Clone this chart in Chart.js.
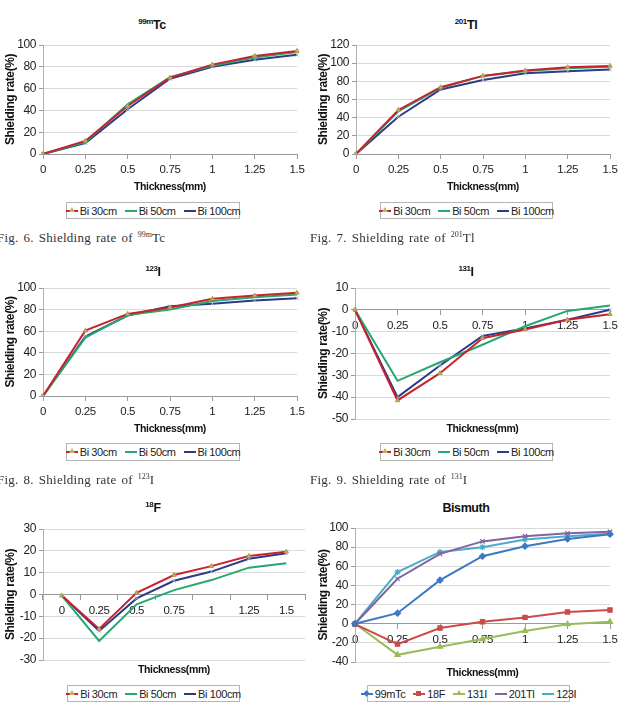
<!DOCTYPE html>
<html>
<head>
<meta charset="utf-8">
<title>Shielding rate</title>
<script src="https://cdn.jsdelivr.net/npm/chart.js@4.4.1/dist/chart.umd.min.js"></script>
<style>
  body { margin: 0; background: #fff; }
  #page { position: relative; width: 626px; height: 712px; overflow: hidden; }
  canvas { position: absolute; }
  .ttl { position: absolute; transform: translate(-50%, -50%); font: bold 12.5px 'Liberation Sans', sans-serif; letter-spacing: -0.4px; color: #111; white-space: nowrap; }
  .ttl sup { font-size: 8px; vertical-align: 5px; line-height: 0; }
  .cap { position: absolute; transform: translateY(-50%); font: 13px 'Liberation Serif', serif; color: #333; letter-spacing: 0.25px; word-spacing: 1.5px; white-space: nowrap; }
  .cap sup { font-size: 8px; vertical-align: 5px; line-height: 0; letter-spacing: 0; }
  .lg { position: absolute; box-sizing: border-box; border: 1px solid #b5b5b5; display: flex; align-items: center; justify-content: center; font: 11px 'Liberation Sans', sans-serif; letter-spacing: -0.4px; color: #222; }
  .it { display: flex; align-items: center; margin: 0 4px; white-space: nowrap; }
  .ln { position: relative; width: 12px; height: 2px; margin-right: 2px; }
  .mk { position: absolute; left: 3px; top: -2px; width: 5px; height: 5px; }
</style>
</head>
<body>
<div id="page"></div>
<script>
// x categories (mm)
const thickness = ['0', '0.25', '0.5', '0.75', '1', '1.25', '1.5'];
const distLabels = ['Bi 30cm', 'Bi 50cm', 'Bi 100cm'];

// 99mTc
const tc30 = [0, 12, 44, 70, 82, 90, 94.5];
const tc50 = [0, 11, 45.5, 70.5, 81, 88.5, 93.5];
const tc100 = [0, 10, 41, 69, 80, 86.5, 91];

// 201Tl
const tl30 = [0, 48.5, 73.5, 86, 92, 95.5, 97];
const tl50 = [0, 47, 73, 86, 91.5, 94.5, 96];
const tl100 = [0, 41, 71, 81.5, 89, 91, 93];

// 123I
const i123_30 = [0, 60.5, 76, 82, 90, 93, 95.5];
const i123_50 = [0, 54, 75, 80, 88, 91.5, 94];
const i123_100 = [0, 55, 74.5, 83, 85.5, 88.5, 90.5];

// 131I
const i131_30 = [0, -41.5, -29, -13, -9, -4.5, -2];
const i131_50 = [0, -32.5, -24, -16, -7.5, -0.5, 2];
const i131_100 = [0, -40, -25.5, -12, -8.5, -4.5, 0];

// 18F
const f30 = [-0.5, -15.8, 0.8, 8.9, 13, 17.6, 19.6];
const f50 = [-0.5, -21.3, -4.5, 2, 6.6, 12.3, 14.3];
const f100 = [-0.5, -16.7, -1.8, 6.3, 10.5, 16.4, 18.9];

// Bismuth summary (Bi 50cm)
const isoLabels = ['99mTc', '18F', '131I', '201Tl', '123I'];
const isoData = [tc50, f50, i131_50, tl50, i123_50];

const SANS = "'Liberation Sans', sans-serif";
const RED = '#c8232c', GREEN = '#25a86d', NAVY = '#2c3b85';
const isoColors = ['#3d78c2', '#cc4a4a', '#9bbb59', '#8064a2', '#4bacc6'];
const isoMarks = ['rectRot', 'rect', 'triangle', 'crossRot', 'star'];

const page = document.getElementById('page');

// slightly condensed canvas text, the original figure is squeezed sideways
const squeeze = {
  id: 'squeeze',
  beforeUpdate(chart) { chart.ctx.letterSpacing = '-0.4px'; },
  beforeDraw(chart) { chart.ctx.letterSpacing = '-0.4px'; }
};

function distSets(a, b, c) {
  return [
    { label: distLabels[0], data: a, borderColor: RED, pointStyle: 'triangle', pointRadius: 2.5,
      pointBackgroundColor: '#c9b263', pointBorderColor: '#a89550', pointBorderWidth: 1 },
    { label: distLabels[1], data: b, borderColor: GREEN, pointRadius: 0 },
    { label: distLabels[2], data: c, borderColor: NAVY, pointStyle: 'crossRot', pointRadius: 2.5,
      pointBorderColor: '#a0a8c4', pointBorderWidth: 1 }
  ];
}

function bismuthSets() {
  return isoLabels.map((name, i) => ({
    label: name, data: isoData[i], borderColor: isoColors[i],
    pointStyle: isoMarks[i], pointRadius: 3, pointBackgroundColor: isoColors[i],
    pointBorderColor: isoColors[i], pointBorderWidth: 1.2
  }));
}

function drawPanel(p) {
  const [L, R, T, B] = p.area;
  const top = T - 12;
  const h = Math.round(p.titleY + 7 - top);
  const cv = document.createElement('canvas');
  cv.width = 313; cv.height = h;
  cv.style.left = p.x + 'px'; cv.style.top = top + 'px';
  page.appendChild(cv);
  const yw = L - p.x;
  const xh = h - (B - top);

  const tickFont = { size: 11.5, family: SANS };
  const xTitle = { display: true, text: 'Thickness(mm)', color: '#111', padding: 0,
                   font: { size: 10.5, weight: 'bold', family: SANS } };
  const scales = {
    x: {
      type: 'category', labels: thickness, offset: !!p.offset,
      position: p.zero ? { y: 0 } : 'bottom',
      grid: { drawOnChartArea: false, tickLength: 5, tickColor: '#9a9a9a', offset: !!p.offset },
      border: { color: '#9a9a9a' },
      ticks: { font: tickFont, color: '#222', padding: 4, autoSkip: false, maxRotation: 0 },
      title: p.zero ? { display: false } : xTitle,
      afterFit: s => { if (!p.zero) s.height = xh; }
    },
    y: {
      min: p.y[0], max: p.y[1],
      ticks: { stepSize: p.y[2], font: { size: 12, family: SANS }, color: '#222', padding: 3 },
      grid: { color: '#d9d9d9', tickLength: 4, tickColor: '#9a9a9a' },
      border: { color: '#b0b0b0' },
      title: { display: true, text: 'Shielding rate(%)', color: '#111', padding: { top: 3.5, bottom: 0 },
               font: { size: 12, weight: 'bold', family: SANS } },
      afterFit: s => { s.width = yw; }
    }
  };
  if (p.zero) {
    scales.x2 = {
      type: 'category', labels: thickness, position: 'bottom',
      grid: { display: false }, border: { display: false }, ticks: { display: false },
      title: xTitle,
      afterFit: s => { s.height = xh; }
    };
  }

  new Chart(cv, {
    type: 'line',
    data: { labels: thickness, datasets: p.sets.map(d => Object.assign({ borderWidth: 2, tension: 0, fill: false }, d)) },
    options: {
      responsive: false, animation: false,
      layout: { padding: { top: 12, right: p.x + 313 - R, bottom: 0, left: 0 } },
      plugins: { legend: { display: false }, tooltip: { enabled: false } },
      scales: scales
    },
    plugins: [squeeze]
  });

  // title
  const t = document.createElement('div');
  t.className = 'ttl';
  t.innerHTML = p.title;
  t.style.left = p.tx + 'px'; t.style.top = p.ty + 'px';
  page.appendChild(t);

  // legend
  const lg = document.createElement('div');
  lg.className = 'lg';
  const [lx, ly, lw, lh] = p.legend;
  Object.assign(lg.style, { left: lx + 'px', top: ly + 'px', width: lw + 'px', height: lh + 'px' });
  p.sets.forEach(d => {
    const it = document.createElement('span');
    it.className = 'it';
    const ln = document.createElement('span');
    ln.className = 'ln';
    ln.style.background = d.borderColor;
    if (d.pointRadius) {
      const mk = document.createElement('span');
      mk.className = 'mk';
      const c = d.pointBackgroundColor || d.borderColor;
      if (d.pointStyle === 'triangle') {
        Object.assign(mk.style, { width: 0, height: 0, top: '-3px', borderLeft: '3px solid transparent',
          borderRight: '3px solid transparent', borderBottom: '5px solid ' + c });
      } else if (d.pointStyle === 'rect' || d.pointStyle === 'rectRot') {
        mk.style.background = c;
        if (d.pointStyle === 'rectRot') mk.style.transform = 'rotate(45deg) scale(0.9)';
      } else {
        mk.style.display = 'none';
      }
      ln.appendChild(mk);
    }
    it.appendChild(ln);
    it.appendChild(document.createTextNode(d.label));
    lg.appendChild(it);
  });
  page.appendChild(lg);
}

function caption(html, x, y) {
  const c = document.createElement('div');
  c.className = 'cap';
  c.innerHTML = html;
  c.style.left = x + 'px'; c.style.top = y + 'px';
  page.appendChild(c);
}

drawPanel({ x: 0, area: [43, 297, 45, 154], titleY: 186, y: [0, 100, 20],
  sets: distSets(tc30, tc50, tc100), title: '<sup>99m</sup>Tc', tx: 152, ty: 25, legend: [66, 202, 174, 17] });
drawPanel({ x: 313, area: [356, 610, 45, 154], titleY: 186, y: [0, 120, 20],
  sets: distSets(tl30, tl50, tl100), title: '<sup>201</sup>Tl', tx: 466, ty: 25, legend: [380, 202, 173, 17] });
drawPanel({ x: 0, area: [43, 297, 288, 396], titleY: 428, y: [0, 100, 20],
  sets: distSets(i123_30, i123_50, i123_100), title: '<sup>123</sup>I', tx: 153, ty: 272, legend: [66, 443, 174, 18] });
drawPanel({ x: 313, area: [355, 610, 288, 419], titleY: 428, y: [-50, 10, 10], zero: true,
  sets: distSets(i131_30, i131_50, i131_100), title: '<sup>131</sup>I', tx: 466, ty: 272, legend: [380, 443, 173, 18] });
drawPanel({ x: 0, area: [43, 305, 529, 660], titleY: 669, y: [-30, 30, 10], zero: true, offset: true,
  sets: distSets(f30, f50, f100), title: '<sup>18</sup>F', tx: 153, ty: 508, legend: [67, 685, 173, 17] });
drawPanel({ x: 313, area: [355, 610, 528, 662], titleY: 672, y: [-40, 100, 20], zero: true,
  sets: bismuthSets(), title: 'Bismuth', tx: 466, ty: 508, legend: [367, 685, 203, 17] });

caption('Fig. 6. Shielding rate of <sup>99m</sup>Tc', -3, 238);
caption('Fig. 7. Shielding rate of <sup>201</sup>Tl', 310, 238);
caption('Fig. 8. Shielding rate of <sup>123</sup>I', -3, 480);
caption('Fig. 9. Shielding rate of <sup>131</sup>I', 310, 480);
</script>
</body>
</html>
